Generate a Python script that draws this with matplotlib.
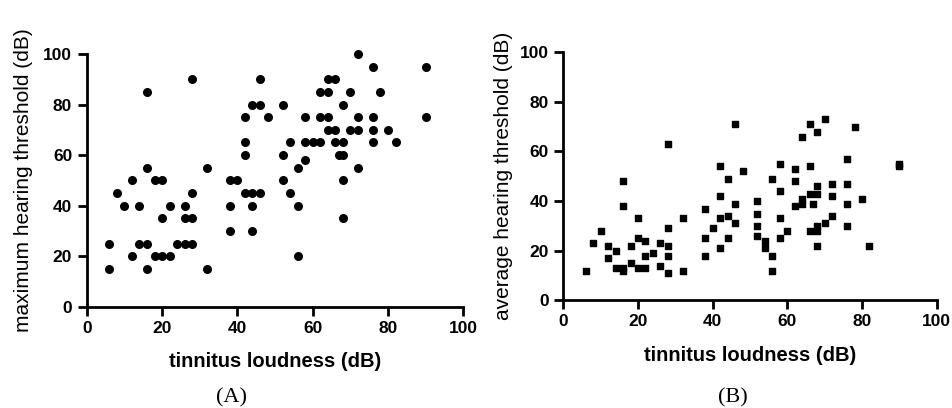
import matplotlib.pyplot as plt

plt.switch_backend('Agg')

# panel A: tinnitus loudness vs maximum hearing threshold (dB)
loud_a = [28, 16, 16, 32, 12, 18, 20, 8, 28, 10, 14, 22, 26, 20, 26, 28,
          6, 14, 16, 24, 26, 28, 12, 18, 20, 22, 6, 16, 32,
          46, 64, 66, 62, 64, 44, 46, 52, 42, 48, 58, 62, 64, 64, 66,
          42, 54, 58, 60, 62, 66, 42, 52, 67, 58, 56, 38, 40, 52,
          42, 44, 46, 54, 38, 44, 56, 38, 44, 56,
          76, 90, 70, 78, 68, 72, 76, 90, 70, 72, 76, 80, 68, 76, 82,
          68, 72, 68, 68, 72]
max_thr = [90, 85, 55, 55, 50, 50, 50, 45, 45, 40, 40, 40, 40, 35, 35, 35,
           25, 25, 25, 25, 25, 25, 20, 20, 20, 20, 15, 15, 15,
           90, 90, 90, 85, 85, 80, 80, 80, 75, 75, 75, 75, 75, 70, 70,
           65, 65, 65, 65, 65, 65, 60, 60, 60, 58, 55, 50, 50, 50,
           45, 45, 45, 45, 40, 40, 40, 30, 30, 20,
           95, 95, 85, 85, 80, 75, 75, 75, 70, 70, 70, 70, 65, 65, 65,
           60, 55, 50, 35, 100]

# panel B: tinnitus loudness vs average hearing threshold (dB)
loud_b = [28, 16, 16, 20, 10, 28, 8, 12, 18, 20, 22, 26, 28, 14, 24, 12,
          22, 28, 14, 16, 16, 18, 20, 22, 26, 28, 6,
          46, 42, 48, 44, 58, 56, 62, 62, 58, 42, 38, 46, 52, 52, 44, 42,
          32, 40, 46, 52, 58, 62, 60, 52, 54, 54, 58, 44, 38, 42, 38, 56,
          56, 32,
          70, 66, 68, 64, 78, 76, 90, 90, 66, 72, 76, 68, 66, 68, 64, 72,
          64, 67, 76, 80, 72, 70, 68, 66, 68, 76, 68, 82]
avg_thr = [63, 48, 38, 33, 28, 29, 23, 22, 22, 25, 24, 23, 22, 20, 19, 17,
           18, 18, 13, 13, 12, 15, 13, 13, 14, 11, 12,
           71, 54, 52, 49, 55, 49, 53, 48, 44, 42, 37, 39, 40, 35, 34, 33,
           33, 29, 31, 30, 33, 38, 28, 26, 24, 21, 25, 25, 25, 21, 18, 18,
           12, 12,
           73, 71, 68, 66, 70, 57, 54, 55, 54, 47, 47, 46, 43, 43, 41, 42,
           39, 39, 39, 41, 34, 31, 30, 28, 28, 30, 22, 22]

ticks = [0, 20, 40, 60, 80, 100]


def style_axis(ax):
    ax.set_xlim(0, 100)
    ax.set_ylim(0, 100)
    ax.set_xticks(ticks)
    ax.set_yticks(ticks)
    for side in ['top', 'right']:
        ax.spines[side].set_visible(False)
    for side in ['left', 'bottom']:
        ax.spines[side].set_linewidth(2)
    ax.tick_params(width=2, length=6.5, labelsize=12.5)
    ax.tick_params(axis='x', pad=3.5)
    ax.tick_params(axis='y', pad=4)
    for lbl in ax.get_xticklabels() + ax.get_yticklabels():
        lbl.set_fontweight('bold')
        lbl.set_fontfamily('Liberation Sans')
    ax.set_xlabel('tinnitus loudness (dB)', fontsize=14.5, fontweight='bold',
                  fontfamily='Liberation Sans')


fig = plt.figure(figsize=(9.52, 4.08), dpi=100)

ax1 = fig.add_axes([0.0911, 0.2483, 0.3956, 0.6194])
ax1.scatter(loud_a, max_thr, s=30, marker='o', color='black', clip_on=False, zorder=3)
style_axis(ax1)
ax1.set_ylabel('maximum hearing threshold (dB)', fontsize=15, fontfamily='Liberation Sans')
ax1.yaxis.set_label_coords(-0.143, 0.5)
ax1.xaxis.set_label_coords(0.5, -0.179)

ax2 = fig.add_axes([0.5917, 0.2635, 0.3922, 0.609])
ax2.scatter(loud_b, avg_thr, s=24, marker='s', color='black', clip_on=False, zorder=3)
style_axis(ax2)
ax2.set_ylabel('average hearing threshold (dB)', fontsize=15, fontfamily='Liberation Sans')
ax2.yaxis.set_label_coords(-0.135, 0.5)
ax2.xaxis.set_label_coords(0.5, -0.183)

fig.text(0.2434, 0.024, '(A)', ha='center', va='center', fontsize=16,
         fontfamily='Liberation Serif')
fig.text(0.770, 0.024, '(B)', ha='center', va='center', fontsize=16,
         fontfamily='Liberation Serif')

fig.savefig('out.png', dpi=100, facecolor='white')
